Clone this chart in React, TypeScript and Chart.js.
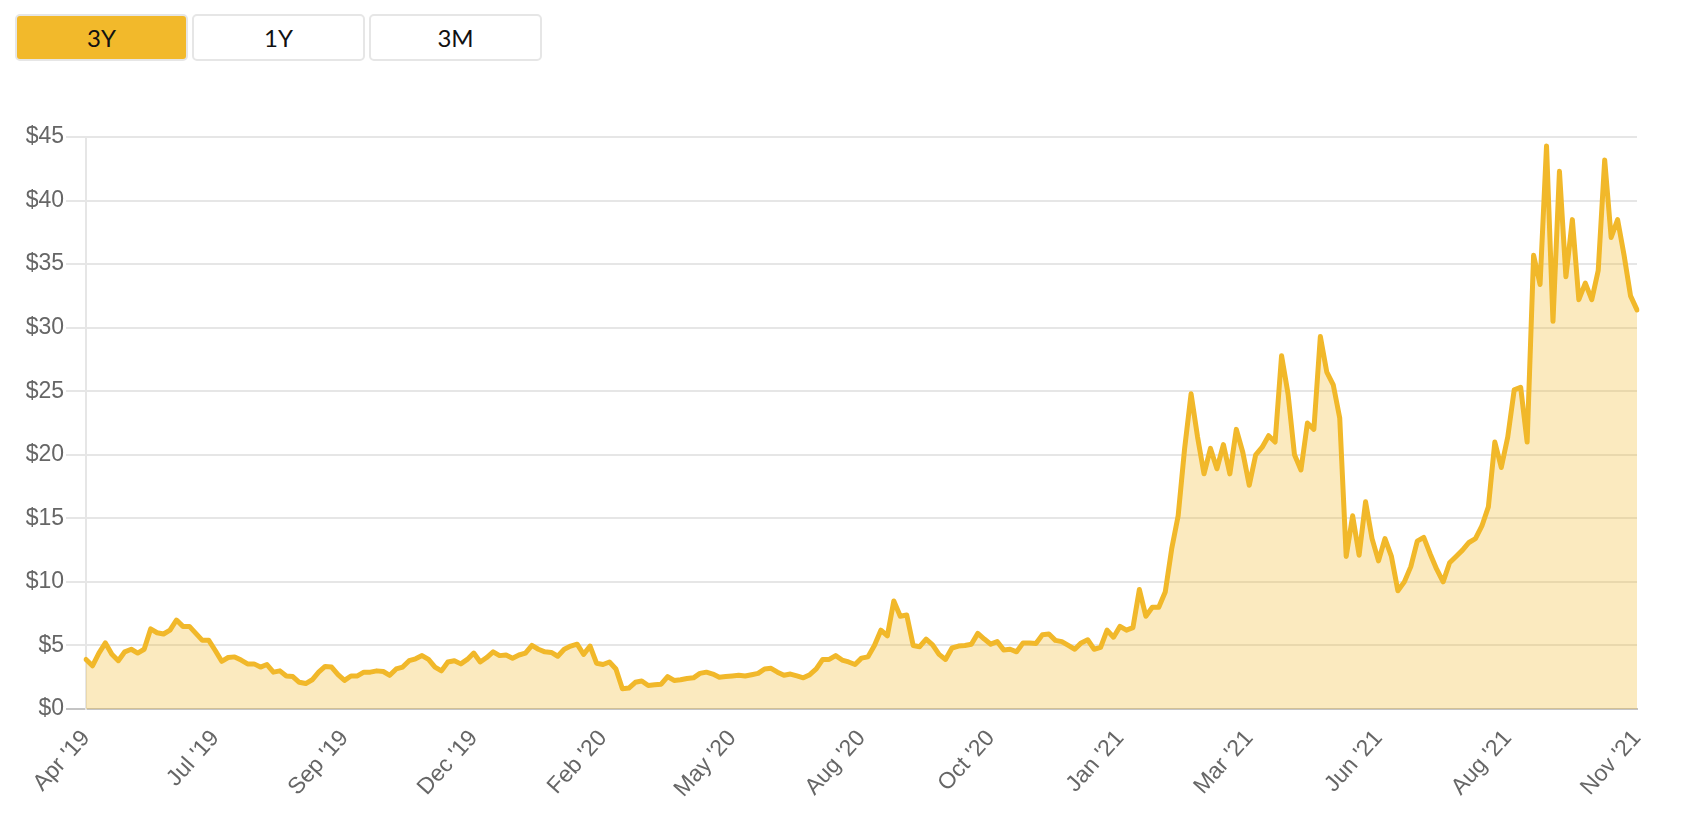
import React, { useEffect, useRef } from 'react';
import { Chart, registerables } from 'chart.js';

Chart.register(...registerables);

const rangeButtons = ['3Y', '1Y', '3M'];
const activeRange = '3Y';

const tickLabels = [
  "Apr '19", "Jul '19", "Sep '19", "Dec '19", "Feb '20", "May '20", "Aug '20",
  "Oct '20", "Jan '21", "Mar '21", "Jun '21", "Aug '21", "Nov '21",
];

// number of price samples between two consecutive tick labels
const POINTS_PER_TICK = 20;

const yMax = 45;
const yStep = 5;

// Apr '19 - Feb '20
const prices2019 = [
  3.9, 3.4, 4.4, 5.2, 4.3, 3.8, 4.5, 4.7, 4.4, 4.7,
  6.3, 6.0, 5.9, 6.2, 7.0, 6.5, 6.5, 5.95, 5.4, 5.4,
  4.6, 3.75, 4.05, 4.1, 3.85, 3.55, 3.55, 3.3, 3.5, 2.9,
  3.0, 2.6, 2.55, 2.1, 2.0, 2.3, 2.9, 3.35, 3.3, 2.7,
  2.25, 2.6, 2.6, 2.9, 2.9, 3.0, 2.95, 2.65, 3.15, 3.3,
  3.8, 3.95, 4.2, 3.9, 3.3, 3.0, 3.7, 3.8, 3.55, 3.9,
  4.4, 3.7, 4.05, 4.5, 4.2, 4.25, 4.0, 4.25, 4.4, 5.0,
  4.7, 4.5, 4.45, 4.15, 4.7, 4.95, 5.1, 4.3, 4.95, 3.6,
];

// Feb '20 - Jan '21
const prices2020 = [
  3.5, 3.7, 3.15, 1.6, 1.65, 2.1, 2.2, 1.85, 1.9, 1.95,
  2.55, 2.25, 2.3, 2.4, 2.45, 2.8, 2.9, 2.75, 2.5, 2.55,
  2.6, 2.65, 2.6, 2.7, 2.8, 3.15, 3.2, 2.9, 2.65, 2.75,
  2.6, 2.45, 2.7, 3.15, 3.9, 3.9, 4.2, 3.85, 3.7, 3.5,
  4.0, 4.1, 5.0, 6.2, 5.75, 8.5, 7.3, 7.4, 5.0, 4.9,
  5.5, 5.05, 4.3, 3.9, 4.8, 4.95, 5.0, 5.1, 5.95, 5.5,
  5.1, 5.3, 4.65, 4.7, 4.5, 5.2, 5.2, 5.15, 5.85, 5.9,
  5.4, 5.3, 5.0, 4.7, 5.2, 5.45, 4.7, 4.85, 6.2, 5.65,
];

// Jan '21 - Nov '21
const prices2021 = [
  6.5, 6.2, 6.4, 9.4, 7.3, 8.0, 8.0, 9.2, 12.6, 15.2,
  20.5, 24.8, 21.4, 18.5, 20.5, 18.9, 20.8, 18.5, 22.0, 20.2,
  17.6, 20.0, 20.6, 21.5, 21.0, 27.8, 24.8, 20.0, 18.8, 22.5,
  22.0, 29.3, 26.5, 25.5, 22.9, 12.0, 15.2, 12.1, 16.3, 13.4,
  11.65, 13.4, 12.0, 9.3, 10.0, 11.2, 13.2, 13.5, 12.2, 11.0,
  10.0, 11.5, 12.0, 12.5, 13.1, 13.4, 14.4, 15.9, 21.0, 19.0,
  21.4, 25.1, 25.3, 21.0, 35.7, 33.4, 44.3, 30.5, 42.3, 34.0,
  38.5, 32.2, 33.5, 32.2, 34.5, 43.2, 37.1, 38.5, 35.7, 32.5,
  31.4,
];

const prices = [...prices2019, ...prices2020, ...prices2021];

const LINE_COLOR = '#f1b82a';
const FILL_COLOR = 'rgba(242, 185, 43, 0.3)';
const GRID_COLOR = '#e6e6e6';
const ZERO_COLOR = '#c4c4c4';
const TEXT_COLOR = '#666666';
const FONT_FAMILY = '"Liberation Sans", Arial, sans-serif';

function PriceChart() {
  const canvasRef = useRef<HTMLCanvasElement | null>(null);

  useEffect(() => {
    if (!canvasRef.current) return;
    const labels = prices.map((_, i) =>
      i % POINTS_PER_TICK === 0 ? tickLabels[i / POINTS_PER_TICK] : ''
    );
    const chart = new Chart(canvasRef.current, {
      type: 'line',
      data: {
        labels,
        datasets: [
          {
            data: prices,
            borderColor: LINE_COLOR,
            backgroundColor: FILL_COLOR,
            borderWidth: 5,
            fill: 'origin',
            pointRadius: 0,
            pointHoverRadius: 0,
            tension: 0,
            borderJoinStyle: 'round',
            borderCapStyle: 'round',
          },
        ],
      },
      options: {
        animation: false,
        responsive: true,
        maintainAspectRatio: false,
        layout: { padding: { top: 47, right: 37, left: 0, bottom: 0 } },
        plugins: {
          legend: { display: false },
          tooltip: { enabled: false },
        },
        scales: {
          x: {
            ticks: {
              autoSkip: false,
              maxRotation: 48,
              minRotation: 48,
              padding: 16,
              color: TEXT_COLOR,
              font: { family: FONT_FAMILY, size: 23 },
            },
            grid: { display: false, drawTicks: false },
            border: { display: true, color: ZERO_COLOR, width: 2 },
            afterFit: (scale: any) => {
              scale.height = 107;
            },
          },
          y: {
            min: 0,
            max: yMax,
            ticks: {
              stepSize: yStep,
              padding: 2,
              color: TEXT_COLOR,
              font: { family: FONT_FAMILY, size: 23 },
              callback: (v: any) => '$' + v,
            },
            grid: {
              color: (ctx: any) => (ctx.tick && ctx.tick.value === 0 ? ZERO_COLOR : GRID_COLOR),
              lineWidth: 2,
              tickLength: 20,
            },
            border: { display: true, color: GRID_COLOR, width: 2 },
            afterFit: (scale: any) => {
              scale.width = 78;
            },
          },
        },
      },
    });
    return () => chart.destroy();
  }, []);

  return (
    <div style={{ position: 'relative', height: 726, marginTop: 29 }}>
      <canvas ref={canvasRef} />
    </div>
  );
}

export default function App() {
  return (
    <div style={{ paddingTop: 6 }}>
      <div style={{ display: 'flex', paddingLeft: 7, gap: 4 }}>
        {rangeButtons.map((r) => (
          <div
            key={r}
            style={{
              boxSizing: 'border-box',
              width: 173,
              height: 47,
              border: '2px solid #e6e6e6',
              borderRadius: 5,
              background: r === activeRange ? '#f2b92b' : '#ffffff',
              color: '#111',
              fontFamily: 'Lato, "Open Sans", sans-serif',
              fontSize: 24,
              display: 'flex',
              alignItems: 'center',
              justifyContent: 'center',
            }}
          >
            {r}
          </div>
        ))}
      </div>
      <PriceChart />
    </div>
  );
}
